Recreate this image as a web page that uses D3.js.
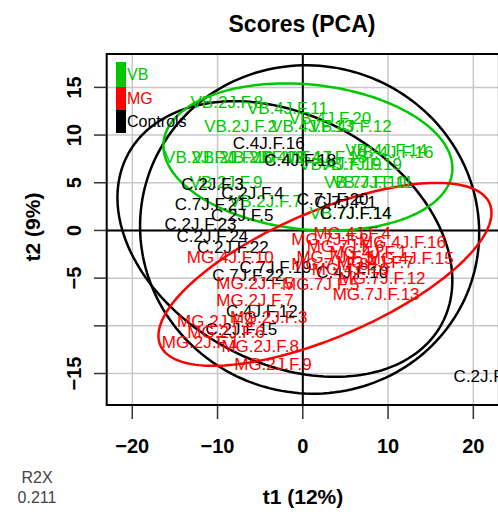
<!DOCTYPE html>
<html><head><meta charset="utf-8">
<script src="https://cdn.jsdelivr.net/npm/d3@7"></script>
<style>body{margin:0;background:#fff;} svg{display:block;font-family:"Liberation Sans",Arial,sans-serif;}</style>
</head><body><svg id="c" width="498" height="512"></svg>
<script>
// ---- data ----
const groups = ["VB", "MG", "Controls"];
const groupColors = ["#00c800", "#ff0000", "#000000"];
const xTicks = [-20, -10, 0, 10, 20];
const yTicks = [-15, -10, -5, 0, 5, 10, 15];
const yTickLabels = ["\u221215", "", "\u22125", "0", "5", "10", "15"];
const xTickLabels = ["\u221220", "\u221210", "0", "10", "20"];

const vbNames = ["VB.2J.F.8","VB.4J.F.11","VB.2J.F.2","VB.4J.F.13","VB.4J.F.20","VB.4J.F.12","VB.2J.F.1","VB.2J.F.10","VB.2J.F.12","VB.4J.F.17","VB.4J.F.18","VB.4J.F.14","VB.4J.F.16","VB.4J.F.19","VB.7J.F.19","VB.7J.F.10","VB.7J.F.11","VB.2J.F.9","VB.2J.F.7","VB.7J.F.14"];
const vbT1 = [-8.9,-1.8,-7.3,1.1,3.2,5.6,-12.0,-8.2,-4.7,-1.4,2.7,9.8,10.5,4.4,6.8,7.3,8.2,-9.0,-4.4,5.6];
const vbT2 = [13.4,12.8,10.9,10.9,11.7,10.9,7.7,7.7,7.7,7.7,7.6,8.4,8.2,6.9,6.9,5.0,5.0,5.0,3.0,1.8];

const mgNames = ["MG.4J.F.10","MG.2J.F.5","MG.2J.F.7","MG.2J.F.3","MG.2J.F.4","MG.2J.F.6","MG.2J.F.1","MG.2J.F.8","MG.2J.F.9","MG.4J.F.4","MG.7J.F.2","MG.4J.F.16","MG.7J.F.6","MG.7J.F.3","MG.4J.F.15","MG.4J.F.1","MG.7J.F.8","MG.4J.F.7","MG.7J.F.12","MG.4J.F.9","MG.7J.F.13","MG.7J.F.5"];
const mgT1 = [-8.5,-5.6,-5.6,-4.0,-10.2,-9.0,-12.0,-5.0,-3.5,5.8,3.2,11.7,5.0,3.8,12.6,7.7,3.2,8.5,9.3,5.6,8.6,2.1];
const mgT2 = [-2.8,-5.6,-7.3,-9.1,-9.5,-10.7,-11.7,-12.2,-14.1,-0.3,-1.0,-1.3,-1.7,-2.8,-2.9,-2.3,-3.6,-3.4,-5.0,-4.1,-6.7,-5.7];

const cNames = ["C.4J.F.16","C.4J.F.18","C.2J.F.3","C.2J.F.4","C.7J.F.21","C.2J.F.5","C.2J.F.23","C.2J.F.24","C.2J.F.22","C.7J.F.22","C.7J.F.19","C.4J.F.10","C.4J.F.12","C.2J.F.15","C.2J.F.17","C.7J.F.20","C.7J.F.1","C.7J.F.14"];
const cT1 = [-4.0,-0.3,-10.6,-5.9,-10.8,-7.1,-12.0,-10.6,-8.2,-6.4,-3.2,5.8,-4.8,-7.2,21.9,3.5,5.0,6.2];
const cT2 = [9.1,7.3,4.8,3.9,2.7,1.6,0.6,-0.6,-1.8,-4.7,-3.9,-4.4,-8.5,-10.4,-15.3,3.2,2.9,1.8];

// ellipses: centre, semi-axes and rotation (degrees) in score units
const ellipseColors = ["#000000", "#000000", "#00c800", "#ff0000"];
const ellCx = [0.8, -2.1, 0.6, 2.6];
const ellCy = [0.1, -0.9, 7.7, -4.6];
const ellA = [19.9, 20.5, 17.0, 20.7];
const ellB = [17.2, 13.2, 7.6, 6.7];
const ellRot = [-4, -22, -5, 20.5];

// ---- layout ----
const svg = d3.select("#c");
const X = d3.scaleLinear().domain([-23, 23]).range([106.7, 498.9]);
const Y = d3.scaleLinear().domain([-18.3, 18.5]).range([405, 54]);

// grid
svg.append("g").selectAll("line").data(xTicks).join("line")
  .attr("x1", d => X(d)).attr("x2", d => X(d)).attr("y1", Y(18.5)).attr("y2", Y(-18.3))
  .attr("stroke", "#c8c8c8").attr("stroke-width", 1.5);
svg.append("g").selectAll("line").data(yTicks).join("line")
  .attr("y1", d => Y(d)).attr("y2", d => Y(d)).attr("x1", X(-23)).attr("x2", X(23))
  .attr("stroke", "#c8c8c8").attr("stroke-width", 1.5);
// zero lines
svg.append("line").attr("x1", X(0)).attr("x2", X(0)).attr("y1", Y(18.5)).attr("y2", Y(-18.3)).attr("stroke", "#000").attr("stroke-width", 2);
svg.append("line").attr("y1", Y(0)).attr("y2", Y(0)).attr("x1", X(-23)).attr("x2", X(23)).attr("stroke", "#000").attr("stroke-width", 2);

// ellipses
const ts = d3.range(0, 361, 2).map(d => d * Math.PI / 180);
const line = d3.line().x(d => X(d[0])).y(d => Y(d[1])).curve(d3.curveLinearClosed);
ellCx.forEach((cx, i) => {
  const th = ellRot[i] * Math.PI / 180;
  const pts = ts.map(t => [
    cx + ellA[i] * Math.cos(t) * Math.cos(th) - ellB[i] * Math.sin(t) * Math.sin(th),
    ellCy[i] + ellA[i] * Math.cos(t) * Math.sin(th) + ellB[i] * Math.sin(t) * Math.cos(th)
  ]);
  svg.append("path").attr("d", line(pts)).attr("fill", "none")
    .attr("stroke", ellipseColors[i]).attr("stroke-width", 2.5);
});

// labels
function labels(names, t1, t2, col) {
  svg.append("g").selectAll("text").data(names).join("text")
    .attr("x", (d, i) => X(t1[i])).attr("y", (d, i) => Y(t2[i]))
    .attr("text-anchor", "middle").attr("dominant-baseline", "central")
    .attr("font-size", 17).attr("fill", col).text(d => d);
}
labels(vbNames, vbT1, vbT2, groupColors[0]);
labels(cNames, cT1, cT2, groupColors[2]);
labels(mgNames, mgT1, mgT2, groupColors[1]);

// box
svg.append("rect").attr("x", X(-23)).attr("y", Y(18.5)).attr("width", X(23) - X(-23)).attr("height", Y(-18.3) - Y(18.5))
  .attr("fill", "none").attr("stroke", "#000").attr("stroke-width", 2);

// legend
const legY = [62, 87, 110, 133];
groups.forEach((g, i) => {
  svg.append("rect").attr("x", 116).attr("y", legY[i]).attr("width", 10).attr("height", legY[i + 1] - legY[i]).attr("fill", groupColors[i]);
  svg.append("text").attr("x", 127).attr("y", (legY[i] + legY[i + 1]) / 2).attr("dominant-baseline", "central")
    .attr("font-size", 16).attr("fill", groupColors[i]).text(g);
});

// axes ticks
svg.append("g").selectAll("line").data(xTicks).join("line")
  .attr("x1", d => X(d)).attr("x2", d => X(d)).attr("y1", 406).attr("y2", 419).attr("stroke", "#333").attr("stroke-width", 1.5);
svg.append("g").selectAll("text").data(xTicks).join("text")
  .attr("x", d => X(d)).attr("y", 446).attr("text-anchor", "middle").attr("dominant-baseline", "central")
  .attr("font-size", 20).attr("font-weight", "bold").text((d, i) => xTickLabels[i]);
svg.append("g").selectAll("line").data(yTicks).join("line")
  .attr("y1", d => Y(d)).attr("y2", d => Y(d)).attr("x1", 94).attr("x2", 106).attr("stroke", "#333").attr("stroke-width", 1.5);
svg.append("g").selectAll("text").data(yTicks).join("text")
  .attr("transform", d => `translate(74,${Y(d)}) rotate(-90)`).attr("text-anchor", "middle").attr("dominant-baseline", "central")
  .attr("font-size", 20).attr("font-weight", "bold").text((d, i) => yTickLabels[i]);

// titles
svg.append("text").attr("x", 302).attr("y", 24).attr("text-anchor", "middle").attr("dominant-baseline", "central")
  .attr("font-size", 23).attr("font-weight", "bold").text("Scores (PCA)");
svg.append("text").attr("x", 303).attr("y", 496).attr("text-anchor", "middle").attr("dominant-baseline", "central")
  .attr("font-size", 21).attr("font-weight", "bold").text("t1 (12%)");
svg.append("text").attr("transform", "translate(32,227) rotate(-90)").attr("text-anchor", "middle").attr("dominant-baseline", "central")
  .attr("font-size", 21).attr("font-weight", "bold").text("t2 (9%)");
svg.append("text").attr("x", 37).attr("y", 477).attr("text-anchor", "middle").attr("dominant-baseline", "central")
  .attr("font-size", 16).attr("fill", "#444").text("R2X");
svg.append("text").attr("x", 37).attr("y", 497).attr("text-anchor", "middle").attr("dominant-baseline", "central")
  .attr("font-size", 16).attr("fill", "#444").text("0.211");
</script></body></html>
